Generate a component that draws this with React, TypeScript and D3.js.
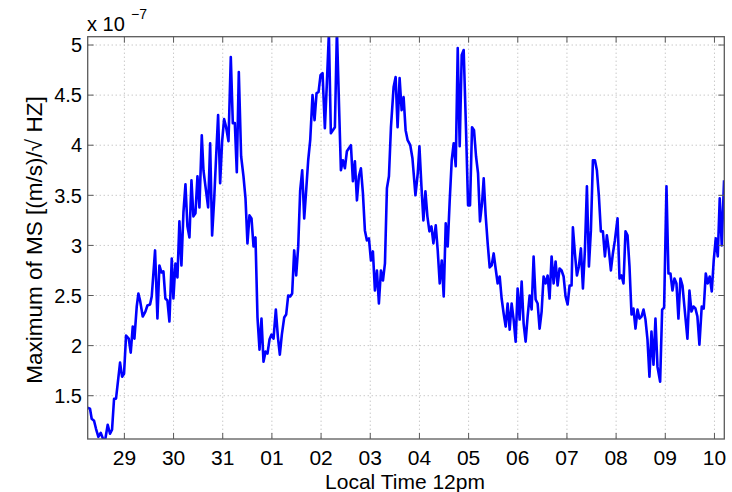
import React from "react";
import * as d3 from "d3";

// Time in days after local noon of the 29th (29 -> 0, 30 -> 1, ..., 10 -> 12)
const dayOffsets: number[] = [
  -0.753, -0.699, -0.665, -0.617, -0.577, -0.529, -0.482, -0.427, -0.387, -0.339,
  -0.292, -0.251, -0.21, -0.17, -0.088, -0.047, -0.007, 0.034, 0.088, 0.129,
  0.17, 0.204, 0.251, 0.285, 0.319, 0.373, 0.427, 0.468, 0.522, 0.556,
  0.624, 0.672, 0.712, 0.753, 0.794, 0.834, 0.875, 0.916, 0.963, 0.997,
  1.038, 1.079, 1.119, 1.16, 1.201, 1.242, 1.282, 1.323, 1.364, 1.404,
  1.445, 1.486, 1.526, 1.574, 1.608, 1.649, 1.703, 1.744, 1.784, 1.825,
  1.866, 1.906, 1.947, 1.988, 2.028, 2.069, 2.117, 2.164, 2.205, 2.246,
  2.286, 2.327, 2.374, 2.422, 2.463, 2.503, 2.544, 2.585, 2.626, 2.666,
  2.707, 2.748, 2.788, 2.829, 2.87, 2.91, 2.951, 2.992, 3.033, 3.08,
  3.121, 3.161, 3.202, 3.25, 3.29, 3.331, 3.372, 3.412, 3.453, 3.494,
  3.535, 3.575, 3.616, 3.657, 3.697, 3.738, 3.779, 3.826, 3.867, 3.908,
  3.948, 3.989, 4.03, 4.077, 4.118, 4.159, 4.199, 4.24, 4.281, 4.322,
  4.362, 4.403, 4.444, 4.484, 4.525, 4.566, 4.607, 4.647, 4.688, 4.729,
  4.769, 4.81, 4.851, 4.891, 4.932, 4.973, 5.014, 5.054, 5.095, 5.136,
  5.176, 5.217, 5.258, 5.299, 5.339, 5.38, 5.421, 5.475, 5.516, 5.556,
  5.597, 5.638, 5.678, 5.719, 5.76, 5.814, 5.858, 5.919, 5.966, 6.0,
  6.041, 6.081, 6.122, 6.162, 6.203, 6.244, 6.284, 6.332, 6.372, 6.413,
  6.454, 6.494, 6.535, 6.575, 6.616, 6.657, 6.697, 6.738, 6.779, 6.819,
  6.86, 6.9, 6.948, 6.989, 7.029, 7.07, 7.11, 7.151, 7.192, 7.232,
  7.273, 7.307, 7.347, 7.388, 7.429, 7.469, 7.51, 7.55, 7.591, 7.632,
  7.672, 7.713, 7.754, 7.794, 7.835, 7.875, 7.916, 7.957, 7.997, 8.038,
  8.079, 8.119, 8.16, 8.2, 8.241, 8.282, 8.322, 8.363, 8.404, 8.444,
  8.485, 8.525, 8.566, 8.607, 8.647, 8.688, 8.729, 8.769, 8.81, 8.85,
  8.891, 8.932, 8.972, 9.013, 9.054, 9.094, 9.121, 9.162, 9.203, 9.243,
  9.284, 9.325, 9.365, 9.406, 9.447, 9.487, 9.528, 9.569, 9.609, 9.65,
  9.69, 9.731, 9.772, 9.812, 9.853, 9.894, 9.934, 9.975, 10.029, 10.069,
  10.11, 10.15, 10.191, 10.232, 10.272, 10.313, 10.353, 10.394, 10.435, 10.475,
  10.516, 10.557, 10.597, 10.638, 10.678, 10.719, 10.76, 10.8, 10.841, 10.895,
  10.936, 10.976, 11.024, 11.064, 11.105, 11.146, 11.186, 11.227, 11.267, 11.308,
  11.349, 11.389, 11.45, 11.491, 11.532, 11.572, 11.613, 11.653, 11.694, 11.741,
  11.782, 11.823, 11.863, 11.904, 11.945, 11.985, 12.026, 12.067, 12.107, 12.148,
  12.195,
];

// Maximum of MS, in units of 1e-7 (m/s)/sqrt(Hz)
const msMax: number[] = [
  1.38, 1.37, 1.27, 1.25, 1.17, 1.09, 1.13, 1.06, 1.07, 1.21,
  1.12, 1.16, 1.47, 1.47, 1.83, 1.69, 1.72, 2.1, 2.07, 1.93,
  2.19, 2.07, 2.39, 2.52, 2.45, 2.29, 2.34, 2.4, 2.41, 2.49,
  2.95, 2.27, 2.8, 2.73, 2.74, 2.47, 2.45, 2.24, 2.87, 2.47,
  2.82, 2.68, 3.24, 2.8, 3.33, 3.61, 3.19, 3.08, 3.65, 3.29,
  3.32, 3.69, 3.38, 4.1, 3.75, 3.59, 3.38, 4.02, 3.1, 3.45,
  3.89, 4.3, 3.62, 4.04, 4.26, 4.18, 4.04, 4.88, 4.22, 4.22,
  3.73, 4.73, 3.89, 3.69, 3.47, 3.02, 3.3, 3.27, 2.99, 3.08,
  2.28, 1.96, 2.27, 1.84, 1.94, 1.92, 2.06, 2.11, 2.07, 2.36,
  2.09, 1.91, 2.11, 2.28, 2.31, 2.5, 2.49, 2.52, 2.95, 2.7,
  2.99, 3.55, 3.75, 3.27, 3.55, 3.85, 4.05, 4.5, 4.25, 4.52,
  4.53, 4.7, 4.72, 4.17, 4.62, 5.12, 4.12, 4.15, 4.18, 5.15,
  4.45, 3.75, 3.85, 3.77, 3.94, 3.97, 4.0, 3.64, 3.84, 3.45,
  3.69, 3.77, 3.52, 3.15, 3.05, 3.07, 2.85, 2.94, 2.55, 2.75,
  2.42, 2.75, 2.65, 2.82, 3.57, 3.69, 4.18, 4.58, 4.68, 4.18,
  4.67, 4.35, 4.48, 4.15, 4.05, 4.0, 3.87, 3.5, 3.72, 3.99,
  3.59, 3.25, 3.54, 3.29, 3.14, 3.19, 3.02, 3.2, 2.95, 2.62,
  2.85, 2.49, 3.22, 2.99, 3.45, 3.85, 4.02, 3.79, 4.97, 3.99,
  4.9, 4.95, 4.15, 3.4, 3.4, 4.18, 4.15, 3.89, 3.72, 3.24,
  3.42, 3.67, 3.3, 3.02, 2.78, 2.8, 2.92, 2.77, 2.62, 2.69,
  2.47, 2.32, 2.19, 2.42, 2.16, 2.42, 2.26, 2.04, 2.57, 2.26,
  2.64, 2.22, 2.04, 2.29, 2.5, 2.36, 2.89, 2.46, 2.42, 2.17,
  2.34, 2.69, 2.62, 2.7, 2.47, 2.89, 2.62, 2.84, 2.6, 2.77,
  2.75, 2.69, 2.49, 2.41, 2.6, 2.6, 3.18, 2.92, 2.7, 2.79,
  2.97, 2.57, 2.95, 3.59, 2.79, 3.15, 3.85, 3.85, 3.75, 3.49,
  3.14, 3.14, 2.89, 3.1, 2.95, 2.75, 2.92, 3.05, 3.27, 2.67,
  2.7, 2.62, 3.14, 3.1, 2.79, 2.31, 2.37, 2.17, 2.36, 2.27,
  2.29, 2.36, 2.26, 2.06, 1.69, 2.14, 1.81, 2.27, 1.79, 1.64,
  2.36, 2.38, 3.59, 2.72, 2.72, 2.55, 2.67, 2.62, 2.27, 2.67,
  2.6, 2.39, 2.07, 2.55, 2.34, 2.39, 2.37, 2.29, 2.01, 2.39,
  2.37, 2.72, 2.62, 2.69, 2.54, 2.85, 3.07, 2.89, 3.47, 3.0,
  3.65,
];

const xTickDays: number[] = [0, 1, 2, 3, 4, 5, 6, 7, 8, 9, 10, 11, 12];
const xTickLabels: string[] = ["29", "30", "31", "01", "02", "03", "04", "05", "06", "07", "08", "09", "10"];
const yTickValues: number[] = [1.5, 2, 2.5, 3, 3.5, 4, 4.5, 5];
const yTickLabels: string[] = ["1.5", "2", "2.5", "3", "3.5", "4", "4.5", "5"];

const W = 732;
const H = 492;
const L = 87.7;
const R = 724.3;
const T = 36.7;
const B = 439;
const FONT = "'Liberation Sans', Arial, Helvetica, sans-serif";

export default function App() {
  const x = d3.scaleLinear().domain([-0.746, 12.2]).range([L, R]);
  const y = d3.scaleLinear().domain([1.068, 5.083]).range([B, T]);
  const pts = dayOffsets.map((d, i) => [d, msMax[i]] as [number, number]);
  const line = d3
    .line<[number, number]>()
    .x((d) => x(d[0]))
    .y((d) => y(d[1]));
  const axisColor = "#5a5a5a";
  const gridColor = "#b0b0b0";
  const tickLen = 6;

  return (
    <svg
      width={W}
      height={H}
      style={{ position: "absolute", left: 0, top: 0, background: "#fff" }}
      fontFamily={FONT}
    >
      <defs>
        <clipPath id="plotClip">
          <rect x={L} y={T} width={R - L} height={B - T} />
        </clipPath>
      </defs>
      <rect x={0} y={0} width={W} height={H} fill="#fff" />
      {/* grid */}
      {xTickDays.map((d) => (
        <line key={"gx" + d} x1={x(d)} x2={x(d)} y1={T} y2={B} stroke={gridColor} strokeWidth={1} strokeDasharray="1,3" />
      ))}
      {yTickValues.map((v) => (
        <line key={"gy" + v} x1={L} x2={R} y1={y(v)} y2={y(v)} stroke={gridColor} strokeWidth={1} strokeDasharray="1,3" />
      ))}
      {/* data line */}
      <path
        d={line(pts) || ""}
        fill="none"
        stroke="#0000ff"
        strokeWidth={2.6}
        strokeLinejoin="round"
        clipPath="url(#plotClip)"
      />
      {/* box */}
      <rect x={L} y={T} width={R - L} height={B - T} fill="none" stroke={axisColor} strokeWidth={1.3} />
      {/* ticks */}
      {xTickDays.map((d) => (
        <g key={"tx" + d}>
          <line x1={x(d)} x2={x(d)} y1={B} y2={B - tickLen} stroke={axisColor} strokeWidth={1} />
          <line x1={x(d)} x2={x(d)} y1={T} y2={T + tickLen} stroke={axisColor} strokeWidth={1} />
        </g>
      ))}
      {yTickValues.map((v) => (
        <g key={"ty" + v}>
          <line x1={L} x2={L + tickLen} y1={y(v)} y2={y(v)} stroke={axisColor} strokeWidth={1} />
          <line x1={R} x2={R - tickLen} y1={y(v)} y2={y(v)} stroke={axisColor} strokeWidth={1} />
        </g>
      ))}
      {/* tick labels */}
      {xTickDays.map((d, i) => (
        <text key={"lx" + d} x={x(d)} y={465} textAnchor="middle" fontSize={21} fill="#000">
          {xTickLabels[i]}
        </text>
      ))}
      {yTickValues.map((v, i) => (
        <text key={"ly" + v} x={82} y={y(v)} dy="0.36em" textAnchor="end" fontSize={20} fill="#000">
          {yTickLabels[i]}
        </text>
      ))}
      {/* exponent */}
      <text x={87} y={31} fontSize={20} fill="#000">
        x 10
      </text>
      <text x={131} y={19} fontSize={14} fill="#000">
        −7
      </text>
      {/* axis labels */}
      <text x={405} y={488.5} textAnchor="middle" fontSize={21} fill="#000">
        Local Time 12pm
      </text>
      <text
        transform={`translate(41.5, 240) rotate(-90)`}
        textAnchor="middle"
        fontSize={22.5}
        fill="#000"
      >
        Maximum of MS [(m/s)/√ HZ]
      </text>
    </svg>
  );
}
